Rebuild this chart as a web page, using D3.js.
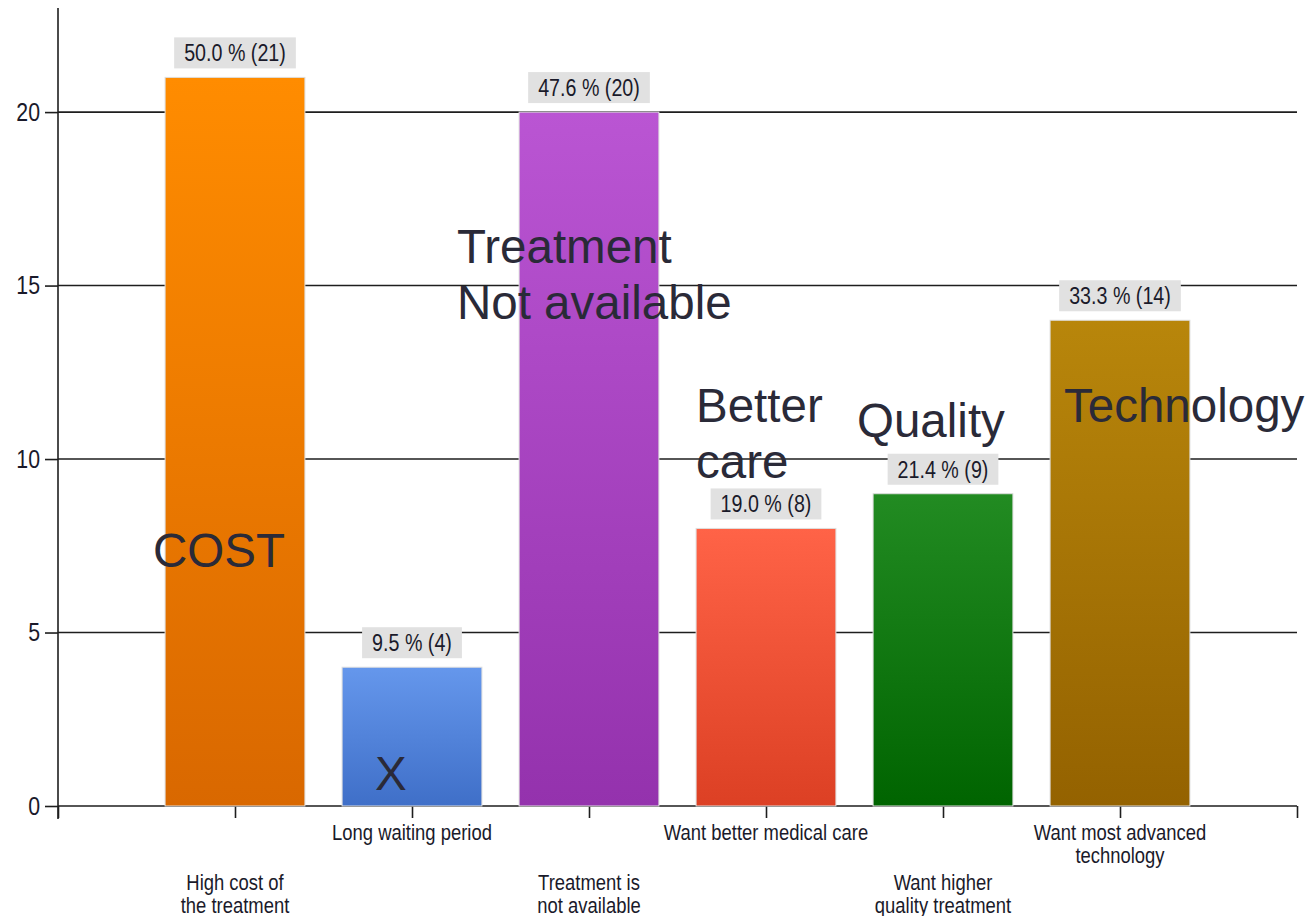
<!DOCTYPE html>
<html>
<head>
<meta charset="utf-8">
<script src="https://cdn.jsdelivr.net/npm/d3@7"></script>
<style>
  html, body { margin: 0; padding: 0; background: #fff; }
  svg { display: block; }
  .narrow { font-family: "Liberation Sans", Arial, sans-serif; }
  .note { font-family: "Liberation Sans", Arial, sans-serif; }
</style>
</head>
<body>
<div id="chart"></div>
<script>
// categories as shown under the axis (line breaks kept)
const categories = [
  ['High cost of', 'the treatment'],
  ['Long waiting period'],
  ['Treatment is', 'not available'],
  ['Want better medical care'],
  ['Want higher', 'quality treatment'],
  ['Want most advanced', 'technology']
];
const counts = [21, 4, 20, 8, 9, 14];
const respondents = 42;
const yTicks = [0, 5, 10, 15, 20];
const topColors = ['#ff8c00', '#6597ec', '#ba55d3', '#ff6347', '#228b22', '#b8860b'];
const bottomColors = ['#d96800', '#3f6fc8', '#9432ad', '#dc4024', '#006400', '#946200'];

// free text pasted over the chart
const notes = [
  { lines: ['COST'], bar: 1, dx: -82, value: 6.9 },
  { lines: ['X'], bar: 2, dx: -37, value: 0.46 },
  { lines: ['Treatment', 'Not available'], bar: 3, dx: -132, value: 15.64 },
  { lines: ['Better', 'care'], bar: 4, dx: -70, value: 11.07 },
  { lines: ['Quality'], bar: 5, dx: -86, value: 10.63 },
  { lines: ['Technology'], bar: 6, dx: -56, value: 11.07 }
];

const width = 1309;
const height = 916;
const squeeze = 0.82; // condensed look of the original labels

const svg = d3.select('#chart')
  .append('svg')
  .attr('width', width)
  .attr('height', height);

const x = d3.scaleLinear().domain([0, 7]).range([58, 1297]);
const y = d3.scaleLinear().domain([0, 23]).range([806, 8]);
const barW = x(0.79) - x(0);

const defs = svg.append('defs');
topColors.forEach((c, i) => {
  const g = defs.append('linearGradient')
    .attr('id', 'grad' + i)
    .attr('x1', 0).attr('y1', 0).attr('x2', 0).attr('y2', 1);
  g.append('stop').attr('offset', '0%').attr('stop-color', c);
  g.append('stop').attr('offset', '100%').attr('stop-color', bottomColors[i]);
});

// horizontal grid lines
svg.append('g')
  .selectAll('line')
  .data(yTicks.filter(t => t > 0))
  .enter()
  .append('line')
  .attr('x1', x(0)).attr('x2', x(7))
  .attr('y1', d => y(d)).attr('y2', d => y(d))
  .attr('stroke', '#1e1e1e')
  .attr('stroke-width', 1.6);

// y axis
const yAxis = svg.append('g')
  .attr('transform', `translate(${x(0)},0)`)
  .call(d3.axisLeft(y).tickValues(yTicks).tickSize(13).tickPadding(6).tickFormat(d3.format('d')));
yAxis.select('.domain').remove();
yAxis.append('line')
  .attr('x1', 0).attr('x2', 0)
  .attr('y1', y(23)).attr('y2', y(0) + 13)
  .attr('stroke', '#1e1e1e').attr('stroke-width', 1.6);
yAxis.selectAll('.tick line').attr('stroke', '#1e1e1e').attr('stroke-width', 1.6);
yAxis.selectAll('.tick text')
  .attr('class', 'narrow')
  .attr('fill', '#1a1a2a')
  .attr('x', -18 / squeeze)
  .attr('transform', `scale(${squeeze},1)`)
  .style('font-size', '26px');

// x axis
const xAxis = svg.append('g')
  .attr('transform', `translate(0,${y(0)})`)
  .call(d3.axisBottom(x).ticks(7).tickSize(12).tickFormat(''));
xAxis.select('.domain')
  .attr('d', `M${x(0)},0H${x(7)}`)
  .attr('stroke', '#1e1e1e').attr('stroke-width', 1.6);
xAxis.selectAll('.tick line').attr('stroke', '#1e1e1e').attr('stroke-width', 1.6);

// bars
svg.append('g')
  .selectAll('rect')
  .data(counts)
  .enter()
  .append('rect')
  .attr('x', (d, i) => x(i + 1) - barW / 2)
  .attr('y', d => y(d))
  .attr('width', barW)
  .attr('height', d => y(0) - y(d))
  .attr('fill', (d, i) => `url(#grad${i})`)
  .attr('stroke', '#dedede')
  .attr('stroke-width', 1);

// value labels with grey boxes
const labels = svg.append('g')
  .selectAll('g')
  .data(counts)
  .enter()
  .append('g');

labels.append('rect').attr('fill', '#e1e1e1');
labels.append('text')
  .attr('class', 'narrow')
  .attr('text-anchor', 'middle')
  .attr('transform', (d, i) => `translate(${x(i + 1)},${y(d) - 16}) scale(${squeeze},1)`)
  .attr('fill', '#1a1a2a')
  .style('font-size', '24px')
  .text(d => `${(d / respondents * 100).toFixed(1)} % (${d})`);

labels.each(function (d, i) {
  const g = d3.select(this);
  const tw = g.select('text').node().getComputedTextLength() * squeeze;
  g.select('rect')
    .attr('x', x(i + 1) - tw / 2 - 10)
    .attr('y', y(d) - 40)
    .attr('width', tw + 20)
    .attr('height', 31);
});

// category labels, alternating rows
const catG = svg.append('g')
  .selectAll('text')
  .data(categories)
  .enter()
  .append('text')
  .attr('class', 'narrow')
  .attr('text-anchor', 'middle')
  .attr('transform', (d, i) => `translate(${x(i + 1)},0) scale(${squeeze},1)`)
  .attr('fill', '#1a1a2a')
  .style('font-size', '22.5px');

catG.each(function (lines, i) {
  const base = i % 2 === 0 ? 890 : 840;
  d3.select(this).selectAll('tspan')
    .data(lines)
    .enter()
    .append('tspan')
    .attr('x', 0)
    .attr('y', (l, k) => base + k * 23)
    .text(l => l);
});

// overlay notes
const noteG = svg.append('g')
  .selectAll('text')
  .data(notes)
  .enter()
  .append('text')
  .attr('class', 'note')
  .attr('fill', '#2a2a38')
  .style('font-size', '47.5px');

noteG.each(function (n) {
  d3.select(this).selectAll('tspan')
    .data(n.lines)
    .enter()
    .append('tspan')
    .attr('x', x(n.bar) + n.dx)
    .attr('y', (l, k) => y(n.value) + k * 56)
    .text(l => l);
});
</script>
</body>
</html>
